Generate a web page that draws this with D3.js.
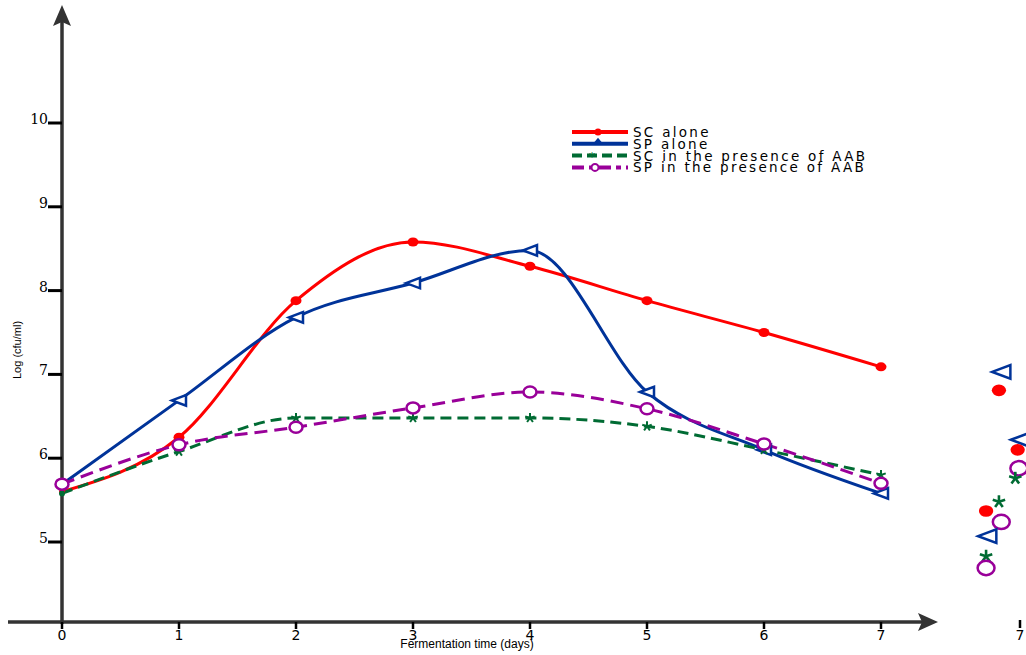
<!DOCTYPE html>
<html>
<head>
<meta charset="utf-8">
<script src="https://cdn.jsdelivr.net/npm/d3@7"></script>
<style>
  body { margin: 0; background: #fff; }
  svg { display: block; }
</style>
</head>
<body>
<div id="chart"></div>
<script>
// chart data
var days = [0, 1, 2, 3, 4, 5, 6, 7];
var scAlone = [5.6, 6.25, 7.88, 8.58, 8.29, 7.88, 7.5, 7.09];
var spAlone = [5.69, 6.69, 7.68, 8.09, 8.48, 6.79, 6.1, 5.58];
var scAab = [5.58, 6.08, 6.48, 6.48, 6.48, 6.38, 6.1, 5.8];
var spAab = [5.69, 6.16, 6.37, 6.6, 6.79, 6.59, 6.17, 5.7];
var yTicks = [5, 6, 7, 8, 9, 10];
var seriesNames = ["SC alone", "SP alone", "SC in the presence of AAB", "SP in the presence of AAB"];

// markers of the neighbouring panel that is cut off on the right edge
var strayDays = [6.84, 6.82, 7.0, 6.98, 6.99, 6.96, 6.82, 6.71, 6.84, 6.72, 6.71, 6.71];
var strayVals = [7.03, 6.81, 6.22, 6.1, 5.88, 5.76, 5.48, 5.37, 5.24, 5.07, 4.83, 4.69];
var strayKind = [1, 0, 1, 0, 3, 2, 2, 0, 3, 1, 2, 3];

var svgWidth = 1026;
var svgHeight = 655;

var svg = d3.select("#chart").append("svg")
  .attr("width", svgWidth)
  .attr("height", svgHeight);

var x = d3.scaleLinear().domain([0, 7]).range([62, 881]);
var y = d3.scaleLinear().domain([5, 10]).range([542, 123]);
// second (cropped) panel
var x2 = d3.scaleLinear().domain([0, 7]).range([201, 1020]);

var axisY = 622;
var axisColor = "#333";

var series = [
  {name: seriesNames[0], vals: scAlone, color: "#ff0000", dash: null, mark: "dot"},
  {name: seriesNames[1], vals: spAlone, color: "#003399", dash: null, mark: "tri"},
  {name: seriesNames[2], vals: scAab, color: "#006b33", dash: "11,6", mark: "star"},
  {name: seriesNames[3], vals: spAab, color: "#990099", dash: "13,7", mark: "ring"}
];

// axes
svg.append("line")
  .attr("x1", 8).attr("x2", 925)
  .attr("y1", axisY).attr("y2", axisY)
  .attr("stroke", axisColor).attr("stroke-width", 3.5);
svg.append("path")
  .attr("d", `M938,${axisY} L918,${axisY - 9} L922,${axisY} L918,${axisY + 9} Z`)
  .attr("fill", axisColor);

svg.append("line")
  .attr("x1", x(0)).attr("x2", x(0))
  .attr("y1", axisY + 2).attr("y2", 18)
  .attr("stroke", axisColor).attr("stroke-width", 3.5);
svg.append("path")
  .attr("d", `M${x(0)},5 L${x(0) - 9},26 L${x(0)},22 L${x(0) + 9},26 Z`)
  .attr("fill", axisColor);

// y ticks
var yAxisG = svg.append("g");
yTicks.forEach(function(t) {
  yAxisG.append("line")
    .attr("x1", x(0) - 14).attr("x2", x(0))
    .attr("y1", y(t)).attr("y2", y(t))
    .attr("stroke", "#000").attr("stroke-width", 3);
  yAxisG.append("text")
    .attr("x", x(0) - 14).attr("y", y(t) + 1)
    .attr("text-anchor", "end")
    .attr("font-family", "DejaVu Serif")
    .attr("font-size", 14)
    .text(t);
});

// x ticks
var xAxisG = svg.append("g");
days.forEach(function(d) {
  xAxisG.append("line")
    .attr("x1", x(d)).attr("x2", x(d))
    .attr("y1", axisY).attr("y2", axisY + 7)
    .attr("stroke", "#000").attr("stroke-width", 2.5);
  xAxisG.append("text")
    .attr("x", x(d)).attr("y", axisY + 18)
    .attr("text-anchor", "middle")
    .attr("font-family", "DejaVu Sans")
    .attr("font-size", 14)
    .text(d);
});
// cropped tick of the next panel
svg.append("line")
  .attr("x1", x2(7)).attr("x2", x2(7))
  .attr("y1", axisY - 2).attr("y2", axisY + 6)
  .attr("stroke", "#000").attr("stroke-width", 2.5);
svg.append("text")
  .attr("x", x2(7)).attr("y", axisY + 18)
  .attr("text-anchor", "middle")
  .attr("font-family", "DejaVu Sans")
  .attr("font-size", 14)
  .text("7");

// axis titles
svg.append("text")
  .attr("x", 467).attr("y", 648)
  .attr("text-anchor", "middle")
  .attr("font-family", "Liberation Sans, Arial")
  .attr("font-size", 12)
  .text("Fermentation time (days)");

svg.append("text")
  .attr("transform", "translate(21,350) rotate(-90)")
  .attr("text-anchor", "middle")
  .attr("font-family", "Liberation Sans Narrow, Liberation Sans")
  .attr("font-size", 11)
  .text("Log (cfu/ml)");

// markers
function drawMark(g, kind, cx, cy, color, scale) {
  scale = scale || 1;
  if (kind === "dot") {
    g.append("ellipse").attr("cx", cx).attr("cy", cy)
      .attr("rx", 5.5 * scale).attr("ry", 4.5 * scale).attr("fill", color);
  } else if (kind === "tri") {
    var s = 7 * scale;
    g.append("path")
      .attr("d", `M${cx - s},${cy} L${cx + s},${cy - s * 0.75} L${cx + s},${cy + s * 0.75} Z`)
      .attr("fill", "#fff").attr("stroke", color).attr("stroke-width", 2.5);
  } else if (kind === "star") {
    var r = 5 * scale;
    var star = g.append("g").attr("stroke", color).attr("stroke-width", 2 * scale);
    [90, 162, 234, 306, 18].forEach(function(a) {
      var rad = a * Math.PI / 180;
      star.append("line").attr("x1", cx).attr("y1", cy)
        .attr("x2", cx + r * Math.cos(rad)).attr("y2", cy - r * Math.sin(rad));
    });
  } else if (kind === "ring") {
    g.append("ellipse").attr("cx", cx).attr("cy", cy)
      .attr("rx", 6.5 * scale).attr("ry", 5.5 * scale)
      .attr("fill", "#fff").attr("stroke", color).attr("stroke-width", 2.5);
  }
}

// lines
var line = d3.line()
  .x(function(d, i) { return x(days[i]); })
  .y(function(d) { return y(d); })
  .curve(d3.curveMonotoneX);

var plot = svg.append("g");
series.forEach(function(s) {
  plot.append("path")
    .datum(s.vals)
    .attr("d", line)
    .attr("fill", "none")
    .attr("stroke", s.color)
    .attr("stroke-width", 3)
    .attr("stroke-dasharray", s.dash);
});
series.forEach(function(s) {
  var g = plot.append("g");
  s.vals.forEach(function(v, i) {
    if (i === 0 && s.mark !== "ring") {
      g.append("circle").attr("cx", x(days[i])).attr("cy", y(v)).attr("r", 3).attr("fill", s.color);
      return;
    }
    drawMark(g, s.mark, x(days[i]), y(v), s.color, 1);
  });
});

// cropped panel markers
var stray = svg.append("g");
strayDays.forEach(function(d, i) {
  var s = series[strayKind[i]];
  drawMark(stray, s.mark, x2(d), y(strayVals[i]), s.color, 1.3);
});

// legend
var legend = svg.append("g").attr("transform", "translate(572,132)");
series.forEach(function(s, i) {
  var row = legend.append("g").attr("transform", `translate(0, ${i * 11.8})`);
  row.append("line")
    .attr("x1", 0).attr("x2", 56)
    .attr("y1", 0).attr("y2", 0)
    .attr("stroke", s.color)
    .attr("stroke-width", 4)
    .attr("stroke-dasharray", i === 2 ? "10,5" : (i === 3 ? "12,5,5,5" : null));
  if (s.mark === "dot") {
    row.append("circle").attr("cx", 26).attr("cy", 0).attr("r", 3.5).attr("fill", s.color);
  } else if (s.mark === "tri") {
    row.append("path").attr("d", "M26,-6 L31,0 L21,0 Z").attr("fill", s.color);
  } else if (s.mark === "star") {
    row.append("text").attr("x", 20).attr("y", 5).attr("text-anchor", "middle")
      .attr("font-size", 13).attr("font-family", "DejaVu Sans").attr("fill", s.color).text("*");
  } else {
    row.append("circle").attr("cx", 23).attr("cy", 0).attr("r", 3.5)
      .attr("fill", "#fff").attr("stroke", s.color).attr("stroke-width", 2);
  }
  row.append("text")
    .attr("x", 61).attr("y", 5)
    .attr("font-family", "DejaVu Sans")
    .attr("font-size", 13.5)
    .attr("letter-spacing", 2.3)
    .text(s.name);
});
</script>
</body>
</html>
